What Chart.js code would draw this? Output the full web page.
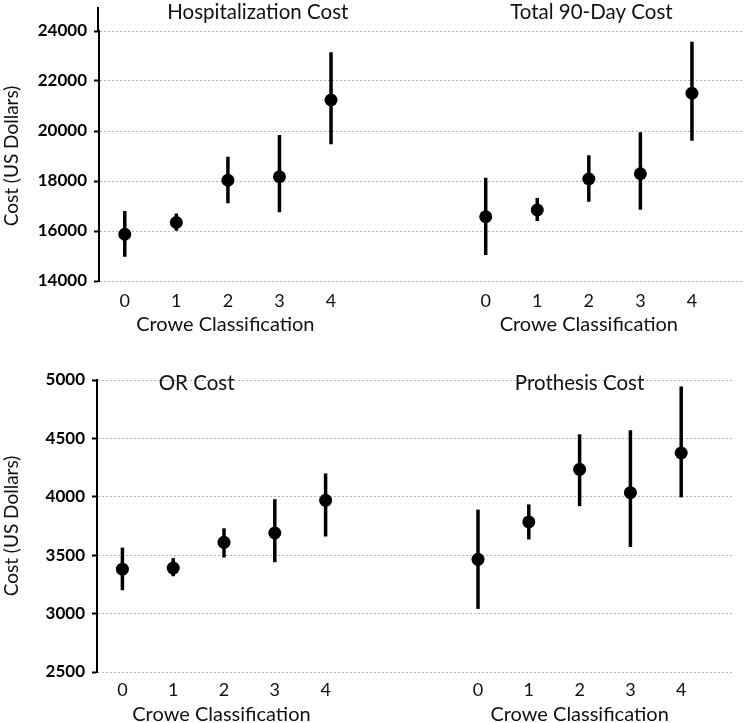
<!DOCTYPE html>
<html>
<head>
<meta charset="utf-8">
<title>Cost by Crowe Classification</title>
<script src="https://cdn.jsdelivr.net/npm/chart.js@4.4.0/dist/chart.umd.min.js"></script>
<style>
  html, body { margin: 0; padding: 0; background: #fff; }
  .panel { position: relative; width: 750px; }
  #top { height: 340px; }
  #bottom { height: 383px; }
</style>
</head>
<body>
<div class="panel" id="top"><canvas id="topChart"></canvas></div>
<div class="panel" id="bottom"><canvas id="bottomChart"></canvas></div>
<script>
// Crowe classes, drawn twice per row (second group shifted right)
const croweLabels = ['0', '1', '2', '3', '4'];
const crowePos = [0, 1, 2, 3, 4];
const GROUP_SHIFT = 7;

// Hospitalization cost (mean, lower, upper)
const hospMean = [15870, 16340, 18030, 18170, 21240];
const hospLow  = [14970, 16010, 17110, 16750, 19470];
const hospHigh = [16800, 16700, 18970, 19840, 23150];

// Total 90-day cost
const totalMean = [16570, 16840, 18080, 18290, 21510];
const totalLow  = [15040, 16400, 17170, 16850, 19610];
const totalHigh = [18130, 17320, 19030, 19950, 23570];

// OR cost
const orMean = [3380, 3390, 3610, 3690, 3970];
const orLow  = [3200, 3320, 3480, 3440, 3660];
const orHigh = [3565, 3475, 3730, 3980, 4200];

// Prosthesis cost
const prosMean = [3465, 3785, 4235, 4035, 4375];
const prosLow  = [3040, 3635, 3920, 3570, 3995];
const prosHigh = [3890, 3935, 4535, 4570, 4945];

// y tick values
const topTicks = [14000, 16000, 18000, 20000, 22000, 24000];
const bottomTicks = [2500, 3000, 3500, 4000, 4500, 5000];

const FONT = 'Lato';

/**
 * Error bars, drawn with the chart's own scales.
 */
const errorBarPlugin = {
  id: 'errorBars',
  beforeDatasetsDraw(chart) {
    const { ctx } = chart;
    const xs = chart.scales.x, ys = chart.scales.y;
    ctx.save();
    ctx.strokeStyle = '#000';
    ctx.lineWidth = 3.5;
    chart.data.datasets.forEach(ds => {
      ds.data.forEach((pt, i) => {
        const px = xs.getPixelForValue(pt.x);
        ctx.beginPath();
        ctx.moveTo(px, ys.getPixelForValue(ds.errLow[i]));
        ctx.lineTo(px, ys.getPixelForValue(ds.errHigh[i]));
        ctx.stroke();
      });
    });
    ctx.restore();
  }
};

/**
 * Panel titles and the per-group x axis titles.
 */
const panelTextPlugin = {
  id: 'panelText',
  afterDraw(chart, args, opts) {
    const { ctx, chartArea } = chart;
    const xs = chart.scales.x, ys = chart.scales.y;
    ctx.save();
    // axis line runs a bit above the top tick in the upper row
    if (opts.axisExtend) {
      ctx.strokeStyle = '#000';
      ctx.lineWidth = 2;
      ctx.beginPath();
      ctx.moveTo(ys.right - 1, chartArea.top - opts.axisExtend);
      ctx.lineTo(ys.right - 1, chartArea.top);
      ctx.stroke();
    }
    ctx.fillStyle = '#111';
    ctx.textAlign = 'center';
    ctx.textBaseline = 'middle';
    ctx.font = '20.5px ' + FONT;
    opts.titles.forEach(t => {
      ctx.fillText(t.text, xs.getPixelForValue(t.x), chartArea.top + opts.titleOffset);
    });
    ctx.font = '20px ' + FONT;
    opts.groupCenters.forEach(c => {
      ctx.fillText('Crowe Classification', xs.getPixelForValue(c), chartArea.bottom + opts.axisTitleOffset);
    });
    ctx.restore();
  }
};

function makeDataset(mean, low, high, shift) {
  return {
    data: crowePos.map((p, i) => ({ x: p + shift, y: mean[i] })),
    errLow: low,
    errHigh: high,
    pointRadius: 6.5,
    pointHoverRadius: 6.5,
    pointBackgroundColor: '#000',
    pointBorderWidth: 0,
    showLine: false
  };
}

function buildChart(canvasId, cfg) {
  return new Chart(document.getElementById(canvasId), {
    type: 'scatter',
    data: { datasets: cfg.datasets },
    plugins: [errorBarPlugin, panelTextPlugin],
    options: {
      responsive: true,
      maintainAspectRatio: false,
      animation: false,
      layout: { padding: { top: cfg.padTop, right: cfg.padRight, left: 0, bottom: 0 } },
      plugins: {
        legend: { display: false },
        tooltip: { enabled: false },
        panelText: {
          titles: cfg.titles,
          titleOffset: cfg.titleOffset,
          groupCenters: [1.95, 2 + GROUP_SHIFT],
          axisTitleOffset: cfg.axisTitleOffset,
          axisExtend: cfg.axisExtend
        }
      },
      scales: {
        x: {
          type: 'linear',
          min: -0.5,
          max: 12,
          afterBuildTicks: s => {
            s.ticks = crowePos.concat(crowePos.map(p => p + GROUP_SHIFT)).map(v => ({ value: v }));
          },
          afterFit: s => { s.height = cfg.xHeight; },
          grid: { display: false, drawTicks: false },
          border: { display: false },
          ticks: {
            autoSkip: false,
            maxRotation: 0,
            padding: cfg.xTickPad,
            color: '#111',
            font: { family: FONT, size: 18 },
            callback: v => croweLabels[v >= GROUP_SHIFT ? v - GROUP_SHIFT : v]
          }
        },
        y: {
          min: cfg.yTicks[0],
          max: cfg.yTicks[cfg.yTicks.length - 1],
          afterBuildTicks: s => { s.ticks = cfg.yTicks.map(v => ({ value: v })); },
          afterFit: s => { s.width = cfg.yWidth; },
          grid: {
            color: '#b4b4b4',
            lineWidth: 1,
            tickLength: 5,
            tickColor: '#000',
            tickWidth: 2,
            tickBorderDash: []
          },
          border: { display: true, color: '#000', width: 2, dash: [2, 2] },
          ticks: {
            padding: 7,
            color: '#000',
            font: { family: FONT, size: 17, weight: 'bold' },
            callback: v => String(v)
          },
          title: {
            display: true,
            text: 'Cost (US Dollars)',
            color: '#111',
            padding: { top: 0, bottom: 0 },
            font: { family: FONT, size: 19 }
          }
        }
      }
    }
  });
}

window.addEventListener('DOMContentLoaded', () => {
  buildChart('topChart', {
    datasets: [
      makeDataset(hospMean, hospLow, hospHigh, 0),
      makeDataset(totalMean, totalLow, totalHigh, GROUP_SHIFT)
    ],
    yTicks: topTicks,
    titles: [
      { text: 'Hospitalization Cost', x: 2.58 },
      { text: 'Total 90-Day Cost', x: 9.05 }
    ],
    padTop: 31, padRight: 5, yWidth: 99, xHeight: 59,
    xTickPad: 9, titleOffset: -19, axisTitleOffset: 44, axisExtend: 24
  });

  buildChart('bottomChart', {
    datasets: [
      makeDataset(orMean, orLow, orHigh, 0),
      makeDataset(prosMean, prosLow, prosHigh, GROUP_SHIFT)
    ],
    yTicks: bottomTicks,
    titles: [
      { text: 'OR Cost', x: 1.46 },
      { text: 'Prothesis Cost', x: 9.0 }
    ],
    padTop: 40, padRight: 18, yWidth: 97, xHeight: 51,
    xTickPad: 7, titleOffset: 3, axisTitleOffset: 43, axisExtend: 0
  });
});
</script>
</body>
</html>
